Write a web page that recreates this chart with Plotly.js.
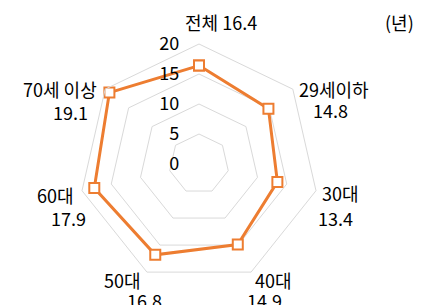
<!DOCTYPE html>
<html>
<head>
<meta charset="utf-8">
<script src="https://cdn.plot.ly/plotly-3.0.1.min.js"></script>
<style>html,body{margin:0;padding:0;background:#fff;}#chart{width:428px;height:305px;}</style>
</head>
<body>
<div id="chart"></div>
<script>
const categories = ["전체", "29세이하", "30대", "40대", "50대", "60대", "70세 이상"];
const values = [16.4, 14.8, 13.4, 14.9, 16.8, 17.9, 19.1];
const radialTicks = [0, 5, 10, 15, 20];
const unitLabel = "(년)";

const orange = "#ED7D31";
const grid = "#D9D9D9";
const font = "'Noto Sans CJK KR', 'Noto Sans', sans-serif";
const fsize = 18;

// Label placement (pixel offsets from each outer vertex; y down).
const labelPlacement = [
  {name: [21.5, -22, "center"], single: true},
  {name: [4, 0, "left"],   value: [38, 21]},
  {name: [4, 2, "left"],   value: [19.5, 27]},
  {name: [2, 8, "left"],   value: [13, 28]},
  {name: [-4, 8, "right"], value: [-2, 28]},
  {name: [-6, 4, "right"], value: [-14, 27]},
  {name: [-6, 0, "right"], value: [-35, 23]}
];

const trace = {
  type: "scatterpolar",
  r: values.concat([values[0]]),
  theta: categories.concat([categories[0]]),
  mode: "lines+markers",
  line: {color: orange, width: 3},
  marker: {symbol: "square", size: 10, color: "#FFFFFF", line: {color: orange, width: 2}},
  hoverinfo: "skip"
};

const annotations = [];
const n = categories.length;
categories.forEach((c, i) => {
  const a = (90 - i * 360 / n) * Math.PI / 180;
  const vx = 0.5 + 0.5 * Math.cos(a);
  const vy = 0.5 + 0.5 * Math.sin(a);
  const p = labelPlacement[i];
  const base = {xref: "paper", yref: "paper", x: vx, y: vy, showarrow: false,
                yanchor: "middle", font: {family: font, size: fsize, color: "#000000"}};
  if (p.single) {
    annotations.push(Object.assign({}, base, {text: c + " " + values[i].toFixed(1),
      xanchor: p.name[2], xshift: p.name[0], yshift: -p.name[1]}));
  } else {
    annotations.push(Object.assign({}, base, {text: c,
      xanchor: p.name[2], xshift: p.name[0], yshift: -p.name[1]}));
    annotations.push(Object.assign({}, base, {text: values[i].toFixed(1),
      xanchor: "center", xshift: p.value[0], yshift: -p.value[1]}));
  }
});
annotations.push({
  text: unitLabel, xref: "paper", yref: "paper", x: 1.335, y: 1.092,
  xanchor: "center", yanchor: "middle", showarrow: false,
  font: {family: font, size: fsize, color: "#000000"}
});

const layout = {
  width: 428, height: 305,
  margin: {l: 79, r: 109, t: 44, b: 21},
  paper_bgcolor: "#FFFFFF",
  showlegend: false,
  font: {family: font, size: fsize, color: "#000000"},
  polar: {
    domain: {x: [0, 1], y: [0, 1]},
    bgcolor: "rgba(0,0,0,0)",
    gridshape: "linear",
    radialaxis: {
      range: [0, 20],
      tickvals: radialTicks,
      ticktext: radialTicks.map(String),
      angle: 90,
      side: "counterclockwise",
      tickangle: 90,
      showline: false,
      ticks: "outside",
      ticklen: 13,
      tickcolor: "rgba(0,0,0,0)",
      gridcolor: grid,
      gridwidth: 1,
      tickfont: {family: font, size: fsize, color: "#000000"}
    },
    angularaxis: {
      type: "category",
      categoryarray: categories,
      direction: "clockwise",
      rotation: 90,
      showgrid: false,
      showline: true,
      linecolor: grid,
      linewidth: 1,
      ticks: "",
      showticklabels: false
    }
  },
  annotations: annotations
};

Plotly.newPlot("chart", [trace], layout, {displayModeBar: false, staticPlot: true});
</script>
</body>
</html>
